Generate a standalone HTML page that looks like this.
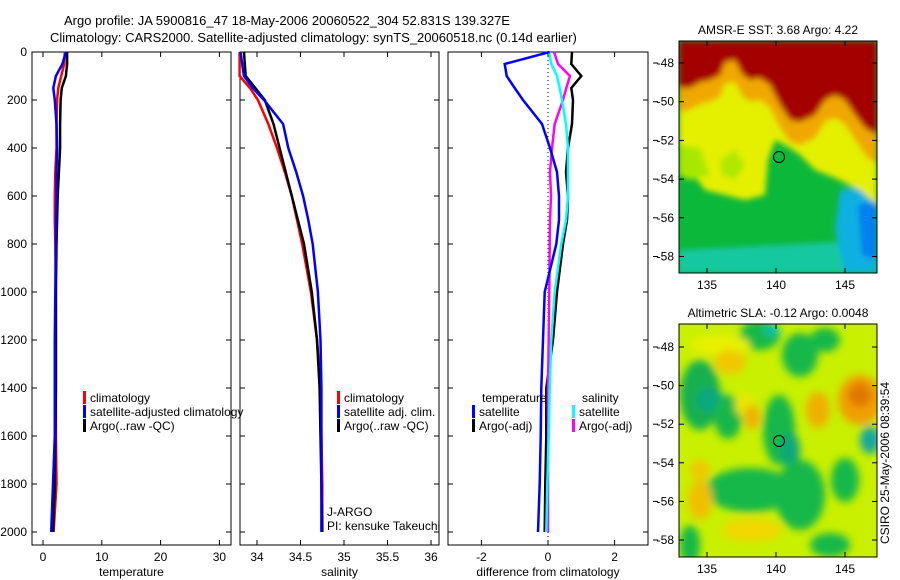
<!DOCTYPE html>
<html><head><meta charset="utf-8">
<style>
body{margin:0;background:#fff;}
svg{display:block;font-family:"Liberation Sans",sans-serif;}
</style></head>
<body>
<svg id="fig" width="900" height="580" viewBox="0 0 900 580" xmlns="http://www.w3.org/2000/svg">
<defs>
<filter id="blur4" x="-10%" y="-10%" width="120%" height="120%"><feGaussianBlur stdDeviation="4"/></filter>
<filter id="blur3" x="-10%" y="-10%" width="120%" height="120%"><feGaussianBlur stdDeviation="3"/></filter>
<clipPath id="clipTop"><rect x="679" y="41" width="198" height="232"/></clipPath>
<clipPath id="clipBot"><rect x="679" y="324" width="198" height="233"/></clipPath>
</defs>
<text x="64" y="25" font-size="13">Argo profile: JA 5900816_47 18-May-2006 20060522_304 52.831S 139.327E</text>
<text x="50" y="42" font-size="13">Climatology: CARS2000. Satellite-adjusted climatology: synTS_20060518.nc (0.14d earlier)</text>

<!-- top map -->
<g clip-path="url(#clipTop)">
<rect x="679" y="41" width="198" height="232" fill="#0cb83a"/>
<g filter="url(#blur3)">
<polygon points="679,250 877,240 877,273 679,273" fill="#18c8a0"/>
<polygon points="840,190 877,185 877,273 845,273 835,230" fill="#10b0e0"/>
<polygon points="858,205 877,200 877,260 862,255" fill="#0080f0"/>
<polygon points="679,60 877,60 877,205 860,190 835,178 815,170 800,155 790,148 775,140 768,160 765,195 745,200 725,195 705,190 690,170 679,165" fill="#e4f000"/>
<polygon points="679,145 700,148 710,175 690,180 679,175" fill="#a8e800"/>
<polygon points="720,160 735,150 745,165 735,180 722,175" fill="#b0e800"/>
<polygon points="679,50 877,50 877,165 865,155 855,140 845,125 835,118 825,122 815,138 800,145 790,142 780,128 770,108 760,100 750,102 742,96 735,82 725,84 720,97 710,102 700,104 690,110 679,112" fill="#f0a800"/>
<polygon points="679,41 877,41 877,135 865,128 855,115 845,100 835,95 825,100 815,115 800,122 790,120 780,105 770,85 760,78 750,80 742,74 735,60 725,62 720,75 710,80 700,82 690,88 679,88" fill="#a40000"/>
</g>
</g>
<rect x="679" y="41" width="198" height="232" fill="none" stroke="#000"/>
<circle cx="779" cy="157" r="5.5" fill="none" stroke="#000"/>
<text x="778" y="34" font-size="12" text-anchor="middle">AMSR-E SST: 3.68 Argo: 4.22</text>

<!-- bottom map -->
<g clip-path="url(#clipBot)">
<rect x="679" y="324" width="198" height="233" fill="#c8f000"/>
<g filter="url(#blur4)">
<ellipse cx="760" cy="335" rx="20" ry="15" fill="#18b848"/>
<ellipse cx="772" cy="330" rx="8" ry="6" fill="#10c0b0"/>
<ellipse cx="720" cy="345" rx="30" ry="10" fill="#e8f000"/>
<ellipse cx="730" cy="362" rx="16" ry="12" fill="#f0c800"/>
<ellipse cx="700" cy="395" rx="20" ry="35" fill="#18b050"/>
<ellipse cx="710" cy="400" rx="14" ry="12" fill="#10a880"/>
<ellipse cx="728" cy="417" rx="14" ry="22" fill="#18b848"/>
<ellipse cx="745" cy="405" rx="10" ry="12" fill="#e8e800"/>
<ellipse cx="752" cy="417" rx="8" ry="12" fill="#f0b000"/>
<ellipse cx="779" cy="430" rx="16" ry="35" fill="#18b848"/>
<ellipse cx="790" cy="450" rx="10" ry="18" fill="#10a878"/>
<ellipse cx="800" cy="355" rx="18" ry="22" fill="#18b848"/>
<ellipse cx="825" cy="340" rx="15" ry="12" fill="#18b848"/>
<ellipse cx="818" cy="410" rx="12" ry="18" fill="#f0b000"/>
<ellipse cx="860" cy="400" rx="22" ry="25" fill="#f0a000"/>
<ellipse cx="860" cy="395" rx="12" ry="12" fill="#e07800"/>
<ellipse cx="870" cy="440" rx="10" ry="14" fill="#18a8a0"/>
<ellipse cx="845" cy="480" rx="14" ry="22" fill="#18b848"/>
<ellipse cx="750" cy="490" rx="45" ry="22" fill="#18b848"/>
<ellipse cx="800" cy="495" rx="25" ry="35" fill="#18b848"/>
<ellipse cx="700" cy="500" rx="12" ry="20" fill="#f0c000"/>
<ellipse cx="700" cy="470" rx="10" ry="10" fill="#f0c800"/>
<ellipse cx="752" cy="530" rx="30" ry="12" fill="#f0d800"/>
<ellipse cx="690" cy="545" rx="10" ry="20" fill="#18b848"/>
<ellipse cx="830" cy="545" rx="20" ry="12" fill="#18b848"/>
</g>
</g>
<rect x="679" y="324" width="198" height="233" fill="none" stroke="#000"/>
<circle cx="779" cy="441" r="5.5" fill="none" stroke="#000"/>
<text x="778" y="317" font-size="12" text-anchor="middle">Altimetric SLA: -0.12 Argo: 0.0048</text>
<text transform="translate(889,463) rotate(-90)" font-size="12" text-anchor="middle">CSIRO 25-May-2006 08:39:54</text>

<g id="plots"></g>
</svg>
<script>
// depth levels (m)
const depths = [0,50,100,150,200,300,400,500,600,700,800,1000,1200,1400,1600,1800,2000];
// temperature
const tempClim = [3.7,3.6,3.1,2.6,2.4,2.3,2.3,2.1,2.0,2.0,2.1,2.2,2.2,2.2,2.2,2.3,1.8];
const tempSat  = [3.9,3.3,2.2,1.75,2.0,2.3,2.4,2.3,2.3,2.2,2.2,2.1,2.0,2.0,2.0,1.7,1.4];
const tempArgo = [4.1,4.1,3.9,3.2,3.0,2.9,2.9,2.7,2.5,2.4,2.3,2.2,2.2,2.2,2.1,2.0,1.7];
// salinity
const salClim = [33.80,33.80,33.80,33.92,34.01,34.13,34.23,34.32,34.40,34.46,34.52,34.62,34.69,34.73,34.74,34.75,34.75];
const salSat  = [33.81,33.83,33.85,33.95,34.08,34.30,34.36,34.45,34.53,34.59,34.64,34.70,34.73,34.74,34.74,34.74,34.74];
const salArgo = [33.85,33.86,33.87,33.98,34.09,34.19,34.26,34.33,34.40,34.47,34.54,34.63,34.69,34.72,34.73,34.74,34.75];
// differences
const dTempSat  = [0.05,-1.3,-1.24,-1.0,-0.75,-0.18,0.06,0.27,0.33,0.33,0.25,-0.1,-0.15,-0.2,-0.22,-0.25,-0.3];
const dTempArgo = [0.72,0.7,1.0,0.7,0.75,0.72,0.6,0.54,0.6,0.57,0.45,0.27,0.15,-0.05,-0.05,-0.08,-0.1];
const dSalSat   = [0.03,0.1,0.27,0.35,0.42,0.54,0.6,0.6,0.6,0.54,0.4,0.2,0.1,0.05,0.02,-0.02,-0.05];
const dSalArgo  = [0.18,0.3,0.66,0.55,0.45,0.2,0.12,0.06,0.09,0.06,0.05,0.04,0.02,0.0,0.0,0.0,0.0];
// ticks
const depthTicks = [0,200,400,600,800,1000,1200,1400,1600,1800,2000];
const tempTicks = [0,10,20,30];
const salTicks = [34,34.5,35,35.5,36];
const salTickLabels = ["34","34.5","35","35.5","36"];
const diffTicks = [-2,0,2];
const latTicks = [-48,-50,-52,-54,-56,-58];
const lonTicks = [135,140,145];

const NS="http://www.w3.org/2000/svg";
const g=document.getElementById('plots');
function el(tag,attrs,parent){const e=document.createElementNS(NS,tag);for(const k in attrs)e.setAttribute(k,attrs[k]);(parent||g).appendChild(e);return e;}
const yD = d => 52 + d*0.24;
const panels=[
 {x0:32,x1:231,fx:v=>43+v*5.88,ticks:tempTicks,labels:tempTicks.map(String),xlabel:"temperature",name:"temperature"},
 {x0:240,x1:439,fx:v=>257+(v-34)*87,ticks:salTicks,labels:salTickLabels,xlabel:"salinity",name:"salinity"},
 {x0:448,x1:648,fx:v=>548+v*33.3,ticks:diffTicks,labels:diffTicks.map(String),xlabel:"difference from climatology",name:"difference"}
];
panels.forEach((p,i)=>{
  const r=el('rect',{x:p.x0,y:52,width:p.x1-p.x0,height:493,fill:'none',stroke:'#000'});
  
  
  p.ticks.forEach((t,j)=>{
    const x=p.fx(t);
    el('line',{x1:x,x2:x,y1:545,y2:540,stroke:'#000'});
    el('line',{x1:x,x2:x,y1:52,y2:57,stroke:'#000'});
    const tx=el('text',{x:x,y:561,'font-size':12,'text-anchor':'middle'});
    tx.textContent=p.labels[j];
    
    
  });
  depthTicks.forEach(d=>{
    el('line',{x1:p.x0,x2:p.x0+5,y1:yD(d),y2:yD(d),stroke:'#000'});
    el('line',{x1:p.x1,x2:p.x1-5,y1:yD(d),y2:yD(d),stroke:'#000'});
  });
  const xl=el('text',{x:(p.x0+p.x1)/2,y:576,'font-size':12,'text-anchor':'middle'});
  xl.textContent=p.xlabel;
  
  
});
depthTicks.forEach(d=>{
  const t=el('text',{x:27,y:yD(d)+4,'font-size':12,'text-anchor':'end'});
  t.textContent=String(d);
  
  
});
// zero line in difference panel
const zl=el('line',{x1:548,x2:548,y1:52,y2:545,stroke:'#000','stroke-dasharray':'1,3'});


// stray ticks right of diff panel
latTicks.forEach((l,k)=>{
  el('line',{x1:653,x2:658,y1:63+k*38.7,y2:63+k*38.7,stroke:'#000'});
  el('line',{x1:653,x2:658,y1:347+k*38.6,y2:347+k*38.6,stroke:'#000'});
});
function series(vals,fx,color,name){
  const pts=vals.map((v,k)=>fx(v).toFixed(1)+','+yD(depths[k]).toFixed(1)).join(' ');
  const pl=el('polyline',{points:pts,fill:'none',stroke:color,'stroke-width':2.5});
  
  
}
const P=panels;
series(tempClim,P[0].fx,'#f00','temp-climatology-line');
series(tempArgo,P[0].fx,'#000','temp-argo-line');
series(tempSat,P[0].fx,'#00f','temp-satellite-line');
series(salClim,P[1].fx,'#f00','sal-climatology-line');
series(salArgo,P[1].fx,'#000','sal-argo-line');
series(salSat,P[1].fx,'#00f','sal-satellite-line');
series(dTempArgo,P[2].fx,'#000','diff-temp-argo-line');
series(dSalArgo,P[2].fx,'#f0f','diff-sal-argo-line');
series(dSalSat,P[2].fx,'#0ff','diff-sal-satellite-line');
series(dTempSat,P[2].fx,'#00f','diff-temp-satellite-line');
// legends
function legend(x,y,color,text,name){
  if(color){const m=el('rect',{x:x,y:y-11,width:3,height:13,fill:color});
    
    }
  const t=el('text',{x:x+7,y:y,'font-size':12});
  t.textContent=text;
  
  
}
legend(83,402,'#f00','climatology','legend-temp-climatology');
legend(83,416,'#00f','satellite-adjusted climatology','legend-temp-satellite');
legend(83,430,'#000','Argo(..raw -QC)','legend-temp-argo');
legend(337,402,'#f00','climatology','legend-sal-climatology');
legend(337,416,'#00f','satellite adj. clim.','legend-sal-satellite');
legend(337,430,'#000','Argo(..raw -QC)','legend-sal-argo');
legend(475,402,null,'temperature','legend-diff-temp-header');
legend(472,416,'#00f','satellite','legend-diff-temp-satellite');
legend(472,430,'#000','Argo(-adj)','legend-diff-temp-argo');
legend(575,402,null,'salinity','legend-diff-sal-header');
legend(572,416,'#0ff','satellite','legend-diff-sal-satellite');
legend(572,430,'#f0f','Argo(-adj)','legend-diff-sal-argo');
legend(320,516,null,'J-ARGO','program-label');
legend(320,530,null,'PI: kensuke Takeuchi','pi-label');
// map axes
const lonX = l => 707 + (l-135)*13.8;
function mapAxes(topY,botY,lat0Y,step,pref){
  latTicks.forEach((l,k)=>{
    const y=lat0Y+k*step;
    el('line',{x1:679,x2:684,y1:y,y2:y,stroke:'#000'});
    el('line',{x1:877,x2:872,y1:y,y2:y,stroke:'#000'});
    const t=el('text',{x:674,y:y+4,'font-size':12,'text-anchor':'end'});
    t.textContent=String(l);
    
    
  });
  lonTicks.forEach(l=>{
    const x=lonX(l);
    el('line',{x1:x,x2:x,y1:botY,y2:botY-5,stroke:'#000'});
    el('line',{x1:x,x2:x,y1:topY,y2:topY+5,stroke:'#000'});
    const t=el('text',{x:x,y:botY+16,'font-size':12,'text-anchor':'middle'});
    t.textContent=String(l);
    
    
  });
}
mapAxes(41,273,63,38.7,'sst');
mapAxes(324,557,347,38.6,'sla');
</script>
</body></html>
